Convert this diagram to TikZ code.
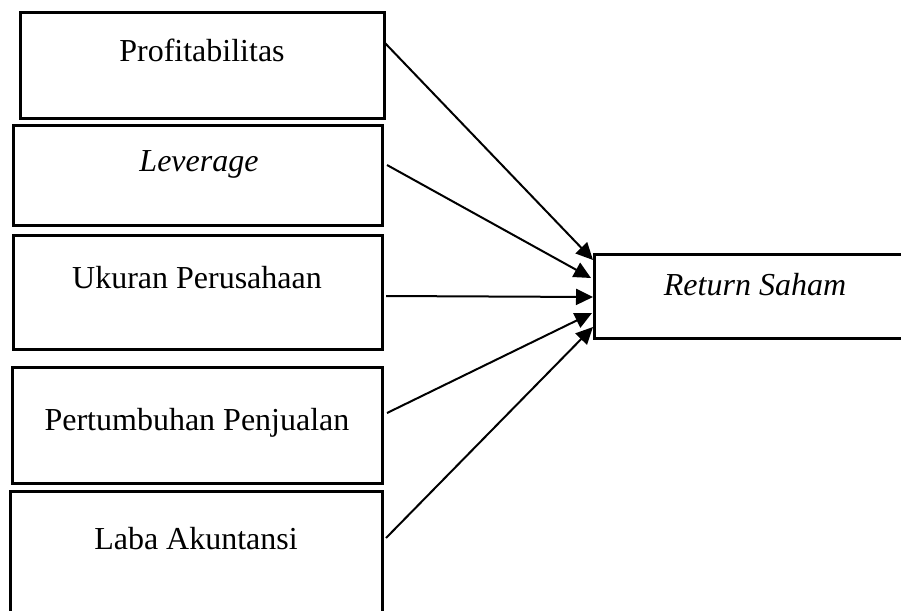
\documentclass[tikz,border=0pt]{standalone}
\usepackage{fontspec}
\setmainfont{Liberation Serif}
\usetikzlibrary{arrows.meta}
\begin{document}
\begin{tikzpicture}[x=1pt,y=-1pt,
  box/.style={draw,line width=3pt,rectangle,inner sep=0pt,outer sep=0pt},
  lbl/.style={anchor=base,inner sep=0pt,font=\fontsize{32}{38}\selectfont},
  conn/.style={line width=2pt,-{Triangle[length=17pt,width=16pt]}}]
\useasboundingbox (0,0) rectangle (901,610);
\clip (0,0) rectangle (901,610);
\node[box,minimum width=364pt,minimum height=105pt] (b1) at (202,65.5) {};
\node[box,minimum width=369pt,minimum height=100pt] (b2) at (197.5,175) {};
\node[box,minimum width=369pt,minimum height=114pt] (b3) at (197.5,292) {};
\node[box,minimum width=370pt,minimum height=116pt] (b4) at (197,425) {};
\node[box,minimum width=372pt,minimum height=138pt] (b5) at (196,560) {};
\node[box,minimum width=366pt,minimum height=84pt] (rs) at (777,296) {};
\node[lbl] (t1) at (202,62) {Profitabilitas};
\node[lbl] (t2) at (199,171) {\itshape Leverage};
\node[lbl] (t3) at (197,288) {Ukuran Perusahaan};
\node[lbl] (t4) at (197,430) {Pertumbuhan Penjualan};
\node[lbl] (t5) at (196,549) {Laba Akuntansi};
\node[lbl] (t6) at (755,295) {\itshape Return Saham};
\coordinate (s1) at (384,42);
\coordinate (s2) at (387,165);
\coordinate (s3) at (386,296);
\coordinate (s4) at (387,413);
\coordinate (s5) at (386,538);
\coordinate (e1) at (593,260);
\coordinate (e2) at (591,278);
\coordinate (e3) at (593,297);
\coordinate (e4) at (592,313);
\coordinate (e5) at (593,327);
\draw[conn] (s1) -- (e1);
\draw[conn] (s2) -- (e2);
\draw[conn] (s3) -- (e3);
\draw[conn] (s4) -- (e4);
\draw[conn] (s5) -- (e5);
\end{tikzpicture}
\end{document}
